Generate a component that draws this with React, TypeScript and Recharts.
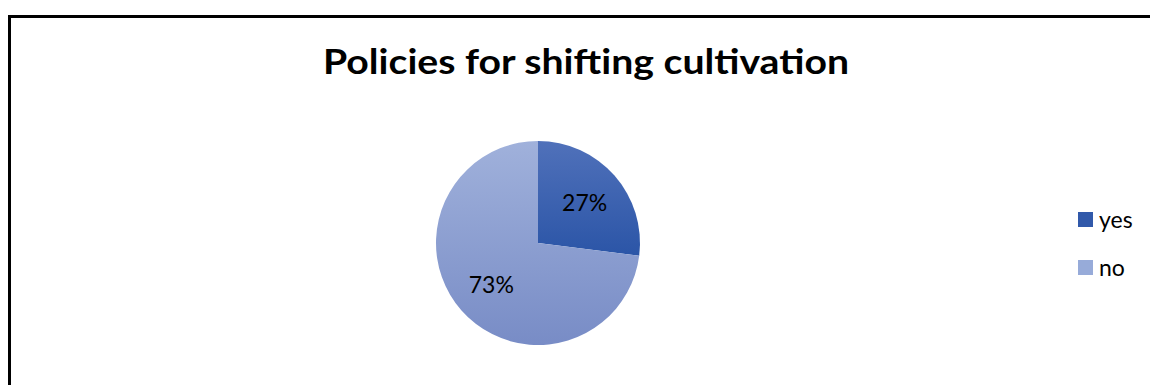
import React from "react";
import { PieChart, Pie, Cell, Legend } from "recharts";

const categories = ["yes", "no"];
const values = [27, 73];
const labels = ["27%", "73%"];
const title = "Policies for shifting cultivation";

const data = categories.map((name, i) => ({ name, value: values[i], label: labels[i] }));

const gradients = [
  { id: "gYes", top: "#5071BA", bottom: "#2B55A7" },
  { id: "gNo", top: "#A0B1DB", bottom: "#788CC6" },
];
const legendColors = ["#3159AA", "#97ABD9"];

const FONT = "Lato, 'Open Sans', sans-serif";
const RADIAN = Math.PI / 180;

const renderLabel = (props: any) => {
  const { cx, cy, midAngle, outerRadius, index } = props;
  const r = outerRadius * 0.61;
  const x = cx + r * Math.cos(-midAngle * RADIAN);
  const y = cy + r * Math.sin(-midAngle * RADIAN);
  return (
    <text
      x={x}
      y={y}
      fill="#000"
      textAnchor="middle"
      dominantBaseline="central"
      style={{ fontFamily: FONT, fontSize: 23 }}
    >
      {data[index].label}
    </text>
  );
};

const renderLegend = () => (
  <div style={{ fontFamily: FONT, fontSize: 23, color: "#000" }}>
    {data.map((d, i) => (
      <div key={d.name} style={{ display: "flex", alignItems: "center", height: 48 }}>
        <div style={{ width: 15, height: 15, background: legendColors[i], marginRight: 6 }} />
        <span>{d.name}</span>
      </div>
    ))}
  </div>
);

export default function App() {
  return (
    <div style={{ position: "absolute", left: 0, top: 0, width: 1150, height: 385, overflow: "hidden", background: "#fff" }}>
      <div
        style={{
          position: "absolute",
          left: 8,
          top: 15,
          width: 1200,
          height: 420,
          border: "3px solid #000",
          boxSizing: "border-box",
        }}
      />
      <svg width={1150} height={100} style={{ position: "absolute", left: 0, top: 0 }}>
        <text
          x={586}
          y={74}
          textAnchor="middle"
          textLength={526}
          lengthAdjust="spacingAndGlyphs"
          style={{ fontFamily: FONT, fontWeight: 700, fontSize: 34, fill: "#000" }}
        >
          {title}
        </text>
      </svg>
      <div style={{ position: "absolute", left: 0, top: 0 }}>
        <PieChart width={1150} height={385} margin={{ top: 0, right: 0, bottom: 0, left: 0 }}>
          <defs>
            {gradients.map((g) => (
              <linearGradient key={g.id} id={g.id} x1="0" y1="0" x2="0" y2="1">
                <stop offset="0%" stopColor={g.top} />
                <stop offset="100%" stopColor={g.bottom} />
              </linearGradient>
            ))}
          </defs>
          <Pie
            data={data}
            dataKey="value"
            nameKey="name"
            cx={538}
            cy={243}
            outerRadius={102}
            startAngle={90}
            endAngle={-270}
            stroke="none"
            label={renderLabel}
            labelLine={false}
            isAnimationActive={false}
          >
            {data.map((d, i) => (
              <Cell key={d.name} fill={`url(#${gradients[i].id})`} />
            ))}
          </Pie>
          <Legend
            content={renderLegend}
            wrapperStyle={{ position: "absolute", left: 1078, top: 195, width: 70 }}
          />
        </PieChart>
      </div>
    </div>
  );
}
